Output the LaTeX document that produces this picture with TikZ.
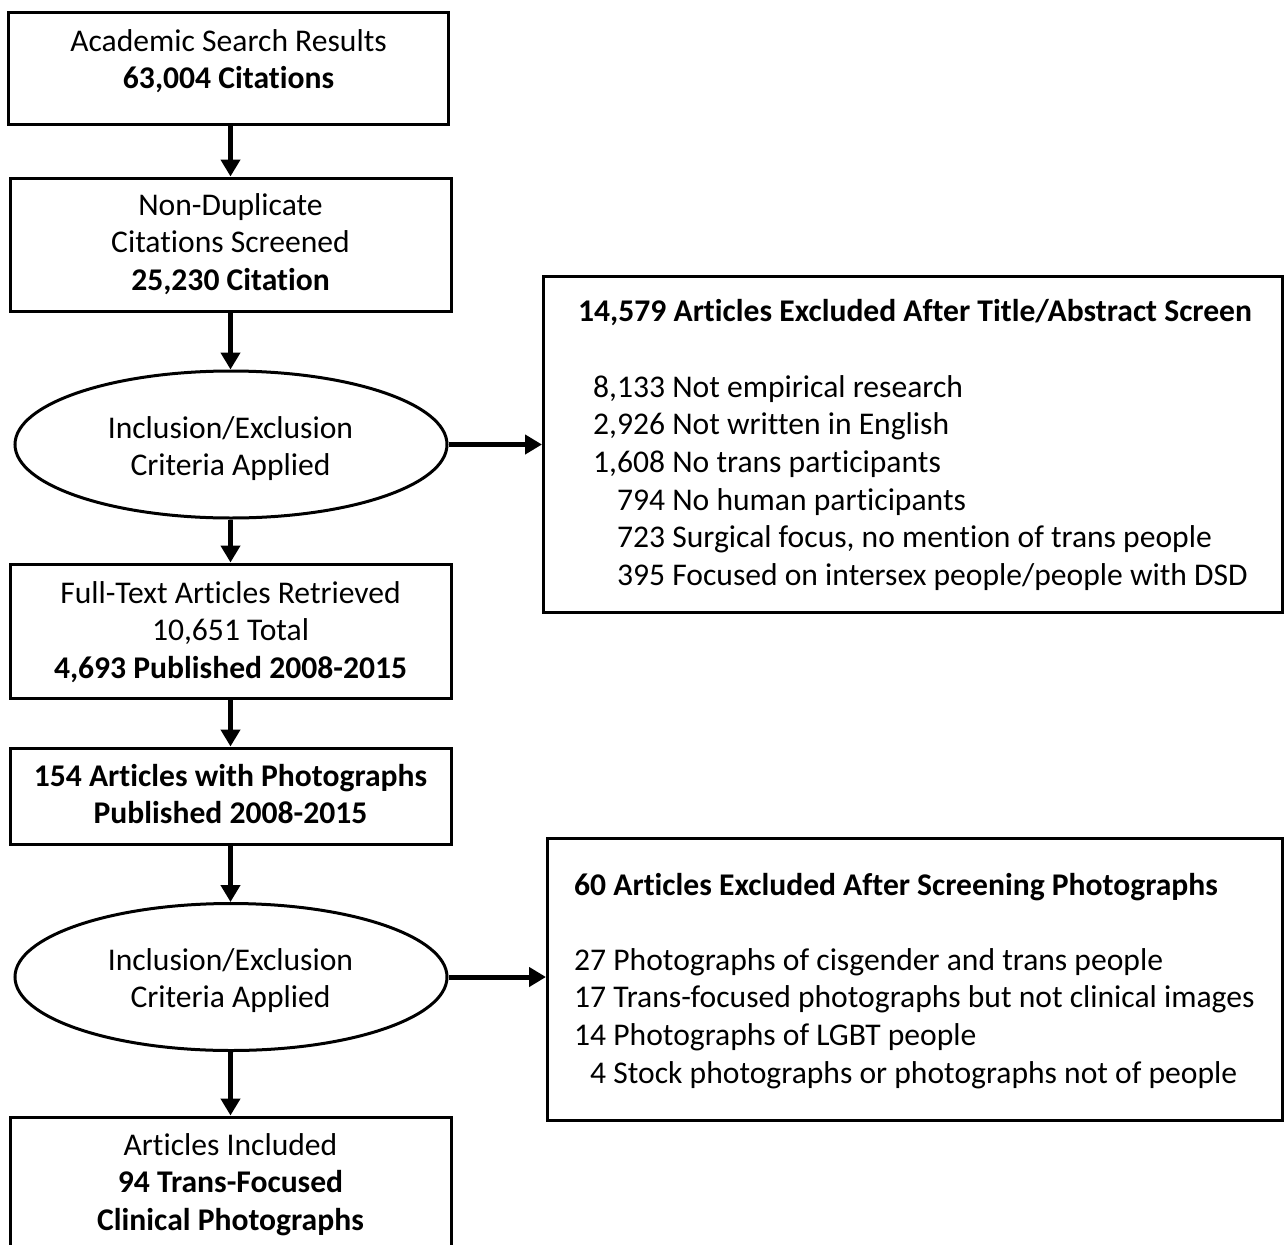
\documentclass[tikz,border=0pt]{standalone}
\usepackage{fontspec}
\setmainfont{Carlito}[Ligatures={NoCommon}]
\usetikzlibrary{arrows.meta,shapes.geometric}
\tikzset{
  box/.style={draw, line width=3pt, inner sep=0pt, rectangle},
  oval/.style={draw, line width=3pt, inner sep=0pt, ellipse, minimum width=432pt, minimum height=147pt},
  ctext/.style={anchor=north, inner sep=0pt, align=center, font=\fontsize{31.6}{37.5}\selectfont},
  ltext/.style={anchor=base west, inner sep=0pt, font=\fontsize{31.6}{37.7}\selectfont},
  arr/.style={line width=5pt, -{Triangle[length=17pt,width=19pt]}},
}
\newcommand{\fstrut}{\rule{0pt}{25pt}}
\begin{document}
\begin{tikzpicture}[x=1pt,y=-1pt]
\useasboundingbox (0,0) rectangle (1288,1245);
\clip (0,0) rectangle (1288,1245);
% left column boxes
\node[box, minimum width=440pt, minimum height=112pt] (b1) at (228,68) {};
\node[box, minimum width=441pt, minimum height=133pt] (b2) at (230.5,244.5) {};
\node[oval] (e1) at (231,444.5) {};
\node[box, minimum width=441pt, minimum height=134pt] (b3) at (230.5,631) {};
\node[box, minimum width=441pt, minimum height=96pt] (b4) at (230.5,796) {};
\node[oval] (e2) at (231,977) {};
\node[box, minimum width=441pt, minimum height=160pt] (b5) at (230.5,1197) {};
% right boxes
\node[box, minimum width=739pt, minimum height=336pt] (r1) at (913,444) {};
\node[box, minimum width=735pt, minimum height=282pt] (r2) at (915,979) {};
% texts in left column
\node[ctext] (t1) at (228.5,51-25) {\fstrut Academic Search Results\\\textbf{63,004 Citations}};
\node[ctext] (t2) at (230.5,215-25) {\fstrut Non-Duplicate\\Citations Screened\\\textbf{25,230 Citation}};
\node[ctext] (t3) at (230.5,438-25) {\fstrut Inclusion/Exclusion\\Criteria Applied};
\node[ctext] (t4) at (230.5,603-25) {\fstrut Full-Text Articles Retrieved\\10,651 Total\\\textbf{4,693 Published 2008-2015}};
\node[ctext] (t5) at (230.5,786-25) {\fstrut\textbf{154 Articles with Photographs}\\\textbf{Published 2008-2015}};
\node[ctext] (t6) at (230.5,970-25) {\fstrut Inclusion/Exclusion\\Criteria Applied};
\node[ctext] (t7) at (230.5,1155-25) {\fstrut Articles Included\\\textbf{94 Trans-Focused}\\\textbf{Clinical Photographs}};
% texts in right boxes
\node[ltext] (h1) at (578,321) {\textbf{14,579 Articles Excluded After Title/Abstract Screen}};
\node[ltext] (l1) at (593,397) {\begin{tabular}[t]{@{}r@{ }l@{}}
8,133 & Not empirical research\\
2,926 & Not written in English\\
1,608 & No trans participants\\
794 & No human participants\\
723 & Surgical focus, no mention of trans people\\
395 & Focused on intersex people/people with DSD
\end{tabular}};
\node[ltext] (h2) at (574,895) {\textbf{60 Articles Excluded After Screening Photographs}};
\node[ltext] (l2) at (574,970) {\begin{tabular}[t]{@{}r@{ }l@{}}
27 & Photographs of cisgender and trans people\\
17 & Trans-focused photographs but not clinical images\\
14 & Photographs of LGBT people\\
4 & Stock photographs or photographs not of people
\end{tabular}};
% connectors
\draw[arr] (b1.south -| b2.north) -- (b2.north);
\draw[arr] (b2.south) -- (b2.south |- e1.north);
\draw[arr] (e1.south -| b3.north) -- (b3.north);
\draw[arr] (b3.south) -- (b4.north);
\draw[arr] (b4.south) -- (b4.south |- e2.north);
\draw[arr] (e2.south -| b5.north) -- (b5.north);
\draw[arr] (e1.east) -- (e1.east -| r1.west);
\draw[arr] (e2.east) -- (e2.east -| r2.west);
\end{tikzpicture}
\end{document}
